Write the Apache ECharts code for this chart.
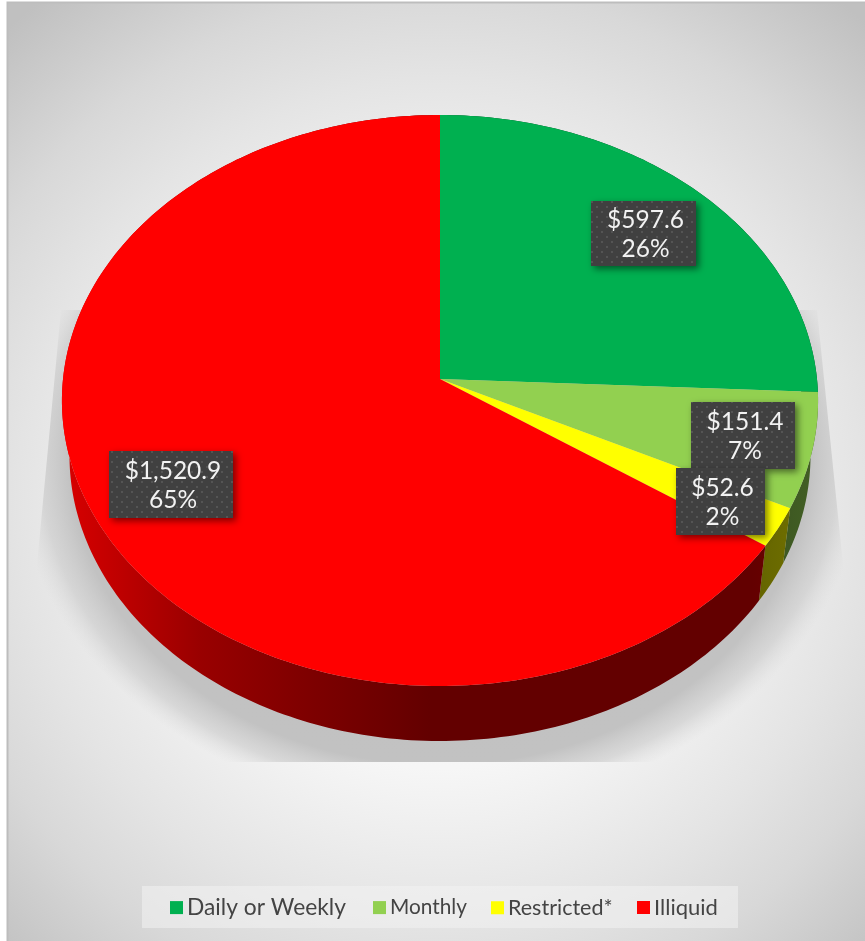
<!DOCTYPE html>
<html>
<head>
<meta charset="utf-8">
<style>html,body{margin:0;padding:0;background:#fff}#chart{width:865px;height:941px}</style>
<script src="https://cdn.jsdelivr.net/npm/echarts@6/dist/echarts.min.js"></script>
</head>
<body>
<div id="chart"></div>
<script>
// Fund liquidity breakdown, in $ millions
const categories = ['Daily or Weekly', 'Monthly', 'Restricted*', 'Illiquid'];
const amounts = [597.6, 151.4, 52.6, 1520.9];
const sliceColors = ['#00B050', '#92D050', '#FFFF00', '#FF0000'];

// Tilted disc: a unit circle seen through a projective camera
const DISC = { cx: 440, cy: 379, rx: 377, ry: 283.9, tilt: -0.0753, depth: 55, baseScale: 0.98 };
// Value call-out boxes: left, top, width, height
const CALLOUTS = [[591, 201, 105, 65], [691, 402, 104, 67], [676, 468, 89, 67], [109, 451, 124, 67]];
// Left edge and type size of each legend entry
const LEGEND_LEFT = [170, 373, 491, 637];
const LEGEND_SIZE = [22.8, 20.8, 21.5, 22];
const LEGEND_MID_Y = 907.5;
const FONT = 'Lato, "Open Sans", sans-serif';

const total = amounts.reduce((a, b) => a + b, 0);

function project(theta, lower) {
  const u = Math.sin(theta), v = -Math.cos(theta);
  const w = 1 + DISC.tilt * v;
  const x = DISC.rx * u / w, y = DISC.ry * v / w;
  return lower
    ? [DISC.cx + x * DISC.baseScale, DISC.cy + y + DISC.depth]
    : [DISC.cx + x, DISC.cy + y];
}

function rim(a0, a1, lower) {
  const n = Math.max(2, Math.ceil((a1 - a0) / (Math.PI / 180)));
  const pts = [];
  for (let i = 0; i <= n; i++) pts.push(project(a0 + (a1 - a0) * i / n, lower));
  return pts;
}

function shade(hex, k) {
  const n = parseInt(hex.slice(1), 16);
  return `rgb(${Math.round((n >> 16 & 255) * k)},${Math.round((n >> 8 & 255) * k)},${Math.round((n & 255) * k)})`;
}

// Dotted texture used by the call-out boxes
function dotTile() {
  const c = document.createElement('canvas');
  c.width = c.height = 10;
  const g = c.getContext('2d');
  g.fillStyle = '#404040';
  g.fillRect(0, 0, 10, 10);
  g.fillStyle = '#545454';
  g.fillRect(1, 1, 2, 2);
  g.fillRect(6, 6, 2, 2);
  return c;
}
const tile = dotTile();

function money(v) {
  return '$' + v.toFixed(1).replace(/\B(?=(\d{3})+(?!\d))/g, ',');
}

function sliceRenderer(index) {
  return function (params, api) {
    const value = api.value(0);
    const before = amounts.slice(0, index).reduce((a, b) => a + b, 0);
    const a0 = before / total * Math.PI * 2;
    const a1 = (before + value) / total * Math.PI * 2;
    const color = api.visual('color');
    const box = CALLOUTS[index];
    const span = 756;
    const wallStops = [[0, 0.85], [138 / span, 0.6], [238 / span, 0.5], [368 / span, 0.39], [690 / span, 0.39], [1, 0.46]];
    return {
      type: 'group',
      children: [
        {
          type: 'polygon', z2: 1, silent: true,
          shape: { points: rim(a0, a1, false).concat(rim(a0, a1, true).reverse()) },
          style: {
            fill: {
              type: 'linear', global: true, x: 62, y: 0, x2: 818, y2: 0,
              colorStops: wallStops.map(s => ({ offset: s[0], color: shade(color, s[1]) }))
            }
          }
        },
        {
          type: 'polygon', z2: 10, silent: true,
          shape: { points: [[DISC.cx, DISC.cy]].concat(rim(a0, a1, false)) },
          style: { fill: color }
        },
        {
          type: 'rect', z2: 20 + index * 2, silent: true,
          shape: { x: box[0], y: box[1], width: box[2], height: box[3] },
          style: {
            fill: { image: tile, repeat: 'repeat' },
            shadowBlur: 7, shadowOffsetX: 3, shadowOffsetY: 3, shadowColor: 'rgba(0,0,0,0.5)'
          }
        },
        {
          type: 'text', z2: 21 + index * 2, silent: true,
          style: {
            x: box[0] + box[2] / 2 + 2, y: box[1] + box[3] / 2 + 1,
            text: money(value) + '\n' + Math.round(value / total * 100) + '%',
            align: 'center', verticalAlign: 'middle',
            font: '24.5px ' + FONT, lineHeight: 29, fill: '#f2f2f2'
          }
        }
      ]
    };
  };
}

// Soft drop shadow: elliptical falloff inside a flared trapezoid that stops under the disc
const SHADOW = { cx: 440, cy: 460, rx: 425, ry: 350 };
const shadowOutline = [[61, 310], [817, 310], [843, 565], [843, 762], [37, 762], [37, 565]];
const squash = SHADOW.ry / SHADOW.rx;

const chart = echarts.init(document.getElementById('chart'), null, { renderer: 'canvas' });
chart.setOption({
  animation: false,
  backgroundColor: '#ffffff',
  graphic: [
    {
      type: 'rect', z: 0, z2: 0, silent: true,
      shape: { x: 7.5, y: 2.5, width: 870, height: 950 },
      style: {
        stroke: '#bdbdbd', lineWidth: 2,
        fill: {
          type: 'radial', global: true, x: 440, y: 500, r: 640,
          colorStops: [
            { offset: 0, color: '#ffffff' },
            { offset: 0.42, color: '#f6f6f6' },
            { offset: 0.66, color: '#e4e4e4' },
            { offset: 0.8, color: '#d8d8d8' },
            { offset: 1, color: '#c0c0c0' }
          ]
        }
      }
    },
    {
      type: 'polygon', z: 0, z2: 1, silent: true,
      x: 0, y: SHADOW.cy, scaleY: squash,
      shape: { points: shadowOutline.map(p => [p[0], (p[1] - SHADOW.cy) / squash]) },
      style: {
        fill: {
          type: 'radial', global: true, x: SHADOW.cx, y: 0, r: SHADOW.rx,
          colorStops: [
            { offset: 0, color: 'rgba(192,192,192,1)' },
            { offset: 0.87, color: 'rgba(194,194,194,1)' },
            { offset: 0.94, color: 'rgba(200,200,200,0.6)' },
            { offset: 1, color: 'rgba(215,215,215,0)' }
          ]
        }
      }
    },
    {
      type: 'rect', z: 0, z2: 2, silent: true,
      shape: { x: 142, y: 886, width: 596, height: 42 },
      style: { fill: 'rgba(242,242,242,0.55)' }
    }
  ],
  legend: categories.map((name, i) => ({
    left: LEGEND_LEFT[i], top: LEGEND_MID_Y - LEGEND_SIZE[i] / 2, padding: 0,
    icon: 'rect', itemWidth: 13, itemHeight: 13,
    selectedMode: false,
    data: [name],
    textStyle: { fontFamily: FONT, fontSize: LEGEND_SIZE[i], color: '#444444', padding: [0, 0, 0, -1] }
  })),
  series: categories.map((name, i) => ({
    type: 'custom',
    name,
    coordinateSystem: 'none',
    itemStyle: { color: sliceColors[i] },
    renderItem: sliceRenderer(i),
    data: [{ name, value: [amounts[i]] }],
    silent: true
  }))
});
</script>
</body>
</html>
